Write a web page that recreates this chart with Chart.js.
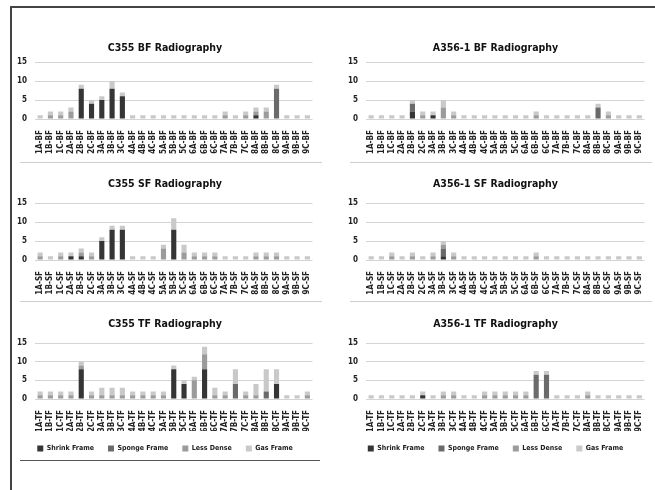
<!DOCTYPE html>
<html>
<head>
<meta charset="utf-8">
<script src="https://cdn.jsdelivr.net/npm/chart.js@4.4.0/dist/chart.umd.min.js"></script>
<style>
    body { margin: 0; background: #fff; width: 655px; height: 490px; position: relative; overflow: hidden; }
    .panel { position: absolute; }
    .rule { position: absolute; }
</style>
</head>
<body>
<div class="rule" style="left:10px;top:6px;width:645px;height:2px;background:#444"></div>
<div class="rule" style="left:10px;top:6px;width:2px;height:484px;background:#444"></div>
<div class="rule" style="left:20px;top:162px;width:302px;height:1px;background:#cfcfcf"></div>
<div class="rule" style="left:20px;top:301px;width:302px;height:1px;background:#cfcfcf"></div>
<div class="rule" style="left:350px;top:162px;width:302px;height:1px;background:#cfcfcf"></div>
<div class="rule" style="left:350px;top:301px;width:302px;height:1px;background:#cfcfcf"></div>
<div class="rule" style="left:20px;top:460px;width:300px;height:1px;background:#555"></div>

<div class="panel" style="left:12px;top:34px;width:308px;height:125px"><canvas id="c355bf"></canvas></div>
<div class="panel" style="left:343px;top:34px;width:309px;height:125px"><canvas id="a356bf"></canvas></div>
<div class="panel" style="left:12px;top:170px;width:308px;height:129px"><canvas id="c355sf"></canvas></div>
<div class="panel" style="left:343px;top:170px;width:309px;height:129px"><canvas id="a356sf"></canvas></div>
<div class="panel" style="left:12px;top:310px;width:308px;height:152px"><canvas id="c355tf"></canvas></div>
<div class="panel" style="left:343px;top:310px;width:309px;height:152px"><canvas id="a356tf"></canvas></div>

<script>
const samples = ['1A', '1B', '1C', '2A', '2B', '2C', '3A', '3B', '3C',
                 '4A', '4B', '4C', '5A', '5B', '5C', '6A', '6B', '6C',
                 '7A', '7B', '7C', '8A', '8B', '8C', '9A', '9B', '9C'];
const seriesNames = ['Shrink Frame', 'Sponge Frame', 'Less Dense', 'Gas Frame'];
const yTicks = [0, 5, 10, 15];

// C355 BF
const c355BfShrink = [0,0,0,0,8,4,5,8,6,0,0,0,0,0,0,0,0,0,0,0,0,1,0,0,0,0,0];
const c355BfSponge = [0,0,0,0,0,0,0,0,0,0,0,0,0,0,0,0,0,0,0,0,0,0,0,8,0,0,0];
const c355BfLess   = [0,1,1,2,0,0,0,0,0,0,0,0,0,0,0,0,0,0,1,0,1,1,2,0,0,0,0];
const c355BfGas    = [1,1,1,1,1,1,1,2,1,1,1,1,1,1,1,1,1,1,1,1,1,1,1,1,1,1,1];

// C355 SF
const c355SfShrink = [0,0,0,1,1,0,5,8,8,0,0,0,0,8,0,0,0,0,0,0,0,0,0,0,0,0,0];
const c355SfSponge = [0,0,0,0,0,0,0,0,0,0,0,0,0,0,0,0,0,0,0,0,0,0,0,0,0,0,0];
const c355SfLess   = [1,0,1,0,1,1,0,0,0,0,0,0,3,0,2,1,1,1,0,0,0,1,1,1,0,0,0];
const c355SfGas    = [1,1,1,1,1,1,1,1,1,1,1,1,1,3,2,1,1,1,1,1,1,1,1,1,1,1,1];

// C355 TF
const c355TfShrink = [0,0,0,0,8,0,0,0,0,0,0,0,0,8,4,0,8,0,0,0,0,0,0,4,0,0,0];
const c355TfSponge = [0,0,0,0,0,0,0,0,0,0,0,0,0,0,0,0,0,0,0,4,0,0,2,0,0,0,0];
const c355TfLess   = [1,1,1,1,1,1,1,1,1,1,1,1,1,0,0,5,4,1,1,0,1,1,0,0,0,0,1];
const c355TfGas    = [1,1,1,1,1,1,2,2,2,1,1,1,1,1,1,1,2,2,1,4,1,3,6,4,1,1,1];

// A356-1 BF
const a356BfShrink = [0,0,0,0,2,0,1,0,0,0,0,0,0,0,0,0,0,0,0,0,0,0,0,0,0,0,0];
const a356BfSponge = [0,0,0,0,2,0,0,0,0,0,0,0,0,0,0,0,0,0,0,0,0,0,3,0,0,0,0];
const a356BfLess   = [0,0,0,0,0,1,0,3,1,0,0,0,0,0,0,0,1,0,0,0,0,0,0,1,0,0,0];
const a356BfGas    = [1,1,1,1,1,1,1,2,1,1,1,1,1,1,1,1,1,1,1,1,1,1,1,1,1,1,1];

// A356-1 SF
const a356SfShrink = [0,0,0,0,0,0,0,1,0,0,0,0,0,0,0,0,0,0,0,0,0,0,0,0,0,0,0];
const a356SfSponge = [0,0,0,0,0,0,0,2,0,0,0,0,0,0,0,0,0,0,0,0,0,0,0,0,0,0,0];
const a356SfLess   = [0,0,1,0,1,0,1,1,1,0,0,0,0,0,0,0,1,0,0,0,0,0,0,0,0,0,0];
const a356SfGas    = [1,1,1,1,1,1,1,1,1,1,1,1,1,1,1,1,1,1,1,1,1,1,1,1,1,1,1];

// A356-1 TF
const a356TfShrink = [0,0,0,0,0,1,0,0,0,0,0,0,0,0,0,0,0,0,0,0,0,0,0,0,0,0,0];
const a356TfSponge = [0,0,0,0,0,0,0,0,0,0,0,0,0,0,0,0,6.5,6.5,0,0,0,0,0,0,0,0,0];
const a356TfLess   = [0,0,0,0,0,0,0,1,1,0,0,1,1,1,1,1,0,0,0,0,0,1,0,0,0,0,0];
const a356TfGas    = [1,1,1,1,1,1,1,1,1,1,1,1,1,1,1,1,1,1,1,1,1,1,1,1,1,1,1];

const colors = ['#353535', '#6a6a6a', '#9b9b9b', '#c9c9c9'];
const fontFamily = "'DejaVu Sans Condensed', 'DejaVu Sans', sans-serif";

function makeChart(id, title, suffix, series, opts) {
    const ctx = document.getElementById(id).getContext('2d');
    return new Chart(ctx, {
        type: 'bar',
        data: {
            labels: samples.map(s => `${s}-${suffix}`),
            datasets: series.map((values, i) => ({
                label: seriesNames[i],
                data: values,
                backgroundColor: colors[i],
                categoryPercentage: 0.5,
                barPercentage: 1
            }))
        },
        options: {
            responsive: true,
            maintainAspectRatio: false,
            animation: false,
            layout: { padding: { left: 0, right: opts.padRight, top: 0, bottom: 0 } },
            plugins: {
                title: {
                    display: true,
                    text: title,
                    color: '#111',
                    font: { family: fontFamily, size: 10.5, weight: 'bold' },
                    padding: { top: 7.5, bottom: opts.titleGap }
                },
                legend: {
                    display: opts.legend,
                    position: 'bottom',
                    labels: {
                        boxWidth: 6,
                        boxHeight: 6,
                        padding: 14,
                        color: '#222',
                        font: { family: fontFamily, size: 7, weight: 'bold' }
                    }
                },
                tooltip: { enabled: false }
            },
            scales: {
                x: {
                    stacked: true,
                    grid: { display: false },
                    border: { display: false },
                    ticks: {
                        autoSkip: false,
                        maxRotation: 90,
                        minRotation: 90,
                        padding: 3,
                        color: '#222',
                        font: { family: fontFamily, size: 8, weight: 'bold' }
                    },
                    afterFit: s => { s.height = opts.axisHeight; }
                },
                y: {
                    stacked: true,
                    min: 0,
                    max: 15,
                    afterBuildTicks: s => { s.ticks = yTicks.map(v => ({ value: v })); },
                    grid: { color: '#d4d4d4', drawTicks: false },
                    border: { display: false },
                    ticks: {
                        padding: 8,
                        color: '#222',
                        font: { family: fontFamily, size: 8, weight: 'bold' }
                    },
                    afterFit: s => { s.width = 23; }
                }
            }
        }
    });
}

const topRow = { titleGap: 8, legend: false, axisHeight: 40 };
const midRow = { titleGap: 13, legend: false, axisHeight: 39 };
const lowRow = { titleGap: 13, legend: true, axisHeight: 32 };

makeChart('c355bf', 'C355 BF Radiography', 'BF',
    [c355BfShrink, c355BfSponge, c355BfLess, c355BfGas], { ...topRow, padRight: 2 });
makeChart('a356bf', 'A356-1 BF Radiography', 'BF',
    [a356BfShrink, a356BfSponge, a356BfLess, a356BfGas], { ...topRow, padRight: 4 });
makeChart('c355sf', 'C355 SF Radiography', 'SF',
    [c355SfShrink, c355SfSponge, c355SfLess, c355SfGas], { ...midRow, padRight: 2 });
makeChart('a356sf', 'A356-1 SF Radiography', 'SF',
    [a356SfShrink, a356SfSponge, a356SfLess, a356SfGas], { ...midRow, padRight: 4 });
makeChart('c355tf', 'C355 TF Radiography', 'TF',
    [c355TfShrink, c355TfSponge, c355TfLess, c355TfGas], { ...lowRow, padRight: 2 });
makeChart('a356tf', 'A356-1 TF Radiography', 'TF',
    [a356TfShrink, a356TfSponge, a356TfLess, a356TfGas], { ...lowRow, padRight: 4 });
</script>
</body>
</html>
